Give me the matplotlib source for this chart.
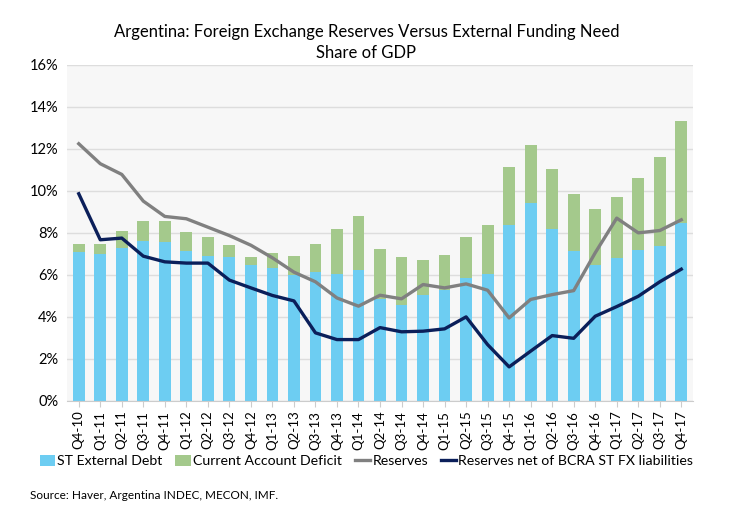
import matplotlib
matplotlib.use("Agg")
import matplotlib.pyplot as plt
import numpy as np

# quarter labels
quarters = ['Q4-10', 'Q1-11', 'Q2-11', 'Q3-11', 'Q4-11', 'Q1-12', 'Q2-12', 'Q3-12', 'Q4-12',
            'Q1-13', 'Q2-13', 'Q3-13', 'Q4-13', 'Q1-14', 'Q2-14', 'Q3-14', 'Q4-14', 'Q1-15',
            'Q2-15', 'Q3-15', 'Q4-15', 'Q1-16', 'Q2-16', 'Q3-16', 'Q4-16', 'Q1-17', 'Q2-17',
            'Q3-17', 'Q4-17']

# share of GDP, %
st_debt = [7.11, 7.00, 7.30, 7.59, 7.57, 7.14, 6.90, 6.83, 6.46, 6.35, 6.00, 6.16, 6.05, 6.22,
           4.83, 4.56, 5.06, 5.27, 5.86, 6.06, 8.37, 9.44, 8.16, 7.13, 6.49, 6.79, 7.19, 7.38, 8.46]
ca_total = [7.46, 7.46, 8.10, 8.54, 8.54, 8.03, 7.79, 7.40, 6.83, 7.06, 6.92, 7.48, 8.19, 8.81,
            7.25, 6.87, 6.70, 6.95, 7.79, 8.37, 11.13, 12.17, 11.05, 9.87, 9.14, 9.71, 10.62, 11.62, 13.32]
ca_deficit = [round(t - d, 2) for t, d in zip(ca_total, st_debt)]
reserves = [12.24, 11.29, 10.78, 9.51, 8.78, 8.67, 8.27, 7.87, 7.41, 6.81, 6.13, 5.67, 4.90, 4.51,
            5.03, 4.86, 5.54, 5.38, 5.57, 5.27, 3.95, 4.83, 5.06, 5.25, 7.05, 8.70, 8.00, 8.11, 8.62]
reserves_net = [9.86, 7.67, 7.75, 6.89, 6.62, 6.56, 6.56, 5.75, 5.38, 5.02, 4.76, 3.24, 2.92, 2.92,
                3.49, 3.29, 3.32, 3.43, 4.00, 2.68, 1.62, 2.37, 3.11, 2.98, 4.03, 4.49, 4.98, 5.67, 6.27]

plt.rcParams['font.family'] = ['Lato', 'DejaVu Sans']

fig = plt.figure(figsize=(7.33, 5.18), dpi=100)
ax = fig.add_axes([0.091, 0.226, 0.854, 0.649])

x = np.arange(len(quarters))
ax.set_facecolor('#f7f7f7')
b1 = ax.bar(x, st_debt, width=0.55, color='#6dcdf2', label='ST External Debt', zorder=2)
b2 = ax.bar(x, ca_deficit, width=0.55, bottom=st_debt, color='#a4c98c',
            label='Current Account Deficit', zorder=2)
l1, = ax.plot(x, reserves, color='#808080', lw=2.4, label='Reserves', zorder=3)
l2, = ax.plot(x, reserves_net, color='#0b1f5a', lw=2.4,
              label='Reserves net of BCRA ST FX liabilities', zorder=4)

ax.set_ylim(0, 16)
ax.set_xlim(-0.56, 28.53)
ax.set_yticks(np.arange(0, 17, 2))
ax.set_yticklabels(['{}%'.format(v) for v in range(0, 17, 2)], fontsize=10.5)
ax.set_xticks(x)
ax.set_xticklabels(quarters, rotation=90, fontsize=9.5)
ax.grid(axis='y', color='#dddddd', lw=1, zorder=0)
ax.tick_params(axis='y', length=0, pad=6)
ax.tick_params(axis='x', length=4, color='#cccccc', pad=3)
for s in ['top', 'right', 'left']:
    ax.spines[s].set_visible(False)
ax.spines['bottom'].set_color('#cccccc')

# legend in the same order as the original
fig.legend([b1, b2, l1, l2], [h.get_label() for h in [b1, b2, l1, l2]],
           loc='center', bbox_to_anchor=(0.5, 0.11), ncol=4, frameon=False, fontsize=10.2,
           handlelength=1.1, handleheight=0.8, handletextpad=0.15, columnspacing=0.9)

fig.text(0.5, 0.938, 'Argentina: Foreign Exchange Reserves Versus External Funding Need',
         ha='center', va='center', fontsize=12)
fig.text(0.5, 0.898, 'Share of GDP', ha='center', va='center', fontsize=12)
fig.text(0.041, 0.043, 'Source: Haver, Argentina INDEC, MECON, IMF.', fontsize=8.5, va='center')

fig.savefig('out.png', dpi=100)
